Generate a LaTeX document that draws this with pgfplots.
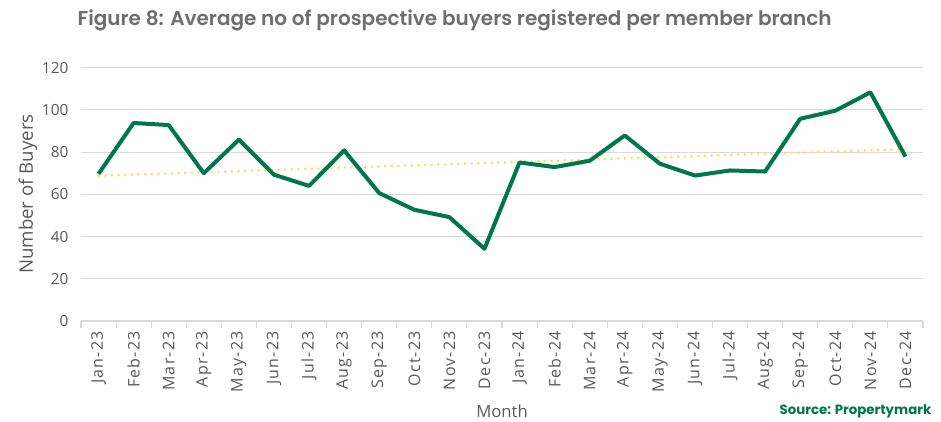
\documentclass[border=0pt]{standalone}
\usepackage{pgfplots}
\pgfplotsset{compat=1.18}
\usepackage{fontspec}
\setmainfont{Open Sans}
\newfontfamily\tickfont{Open Sans}[LetterSpace=8]
\newfontfamily\titlefont{Poppins}
\newfontfamily\titlemed{Poppins SemiBold}
\definecolor{lgreen}{HTML}{00774A}
\definecolor{trendy}{HTML}{FFD966}
\definecolor{txtgray}{HTML}{595959}
\definecolor{titlegray}{HTML}{6E6E70}
\definecolor{gridgray}{HTML}{D9D9D9}
\begin{document}
\begin{tikzpicture}[x=0.75pt,y=0.75pt]
\useasboundingbox (-81,-100) rectangle (860,321);
\begin{axis}[
  at={(0,0)}, anchor=south west,
  scale only axis, width=631.5pt, height=190pt,
  xmin=-0.5, xmax=23.5, ymin=0, ymax=120,
  ytick={0,20,...,120},
  xtick={0,...,23},
  xticklabels={Jan-23,Feb-23,Mar-23,Apr-23,May-23,Jun-23,Jul-23,Aug-23,Sep-23,Oct-23,Nov-23,Dec-23,Jan-24,Feb-24,Mar-24,Apr-24,May-24,Jun-24,Jul-24,Aug-24,Sep-24,Oct-24,Nov-24,Dec-24},
  minor xtick={-0.5,0.5,...,23.5},
  x tick label style={rotate=90, anchor=east, font=\tickfont\fontsize{12}{13}\selectfont, color=txtgray},
  y tick label style={font=\fontsize{11.5}{14}\selectfont, color=txtgray},
  /pgf/number format/assume math mode=true,
  axis x line*=bottom, axis y line*=left,
  x axis line style={draw=gridgray, line width=0.8pt},
  y axis line style={draw=none},
  every tick/.style={draw=none},
  minor tick style={draw=gridgray, line width=0.8pt},
  minor tick length=5pt,
  xtick align=outside,
  major tick length=0pt,
  ymajorgrids, grid style={draw=gridgray, line width=0.8pt},
  clip=false,
  xticklabel shift=4pt,
  yticklabel style={xshift=-6pt},
]
\addplot[trendy, line width=2.2pt, line cap=round, dash pattern=on 0pt off 5pt] coordinates {(0,68.8) (23,81.4)};
\addplot[lgreen, line width=3pt, line join=round] coordinates {
(0,69.7) (1,93.8) (2,92.8) (3,70.0) (4,85.9) (5,69.3) (6,64.0) (7,80.8)
(8,60.6) (9,52.7) (10,49.2) (11,34.2) (12,75.1) (13,72.9) (14,75.9) (15,87.9)
(16,74.5) (17,68.9) (18,71.3) (19,70.8) (20,95.8) (21,99.6) (22,108.3) (23,77.9)};
\end{axis}
\node[rotate=90, font=\fontsize{14}{16}\selectfont, text=txtgray] at (-53,127) {Number of Buyers};
\node[font=\fontsize{12.5}{15}\selectfont, text=txtgray] at (421,-90) {Month};
\node[anchor=east, font=\titlefont\bfseries\fontsize{10}{12}\selectfont, text=lgreen] at (855,-90) {Source: Propertymark};
\node[anchor=west, font=\titlemed\fontsize{15}{18}\selectfont, text=titlegray] at (-8,301) {Figure 8: Average no of prospective buyers registered per member branch};
\end{tikzpicture}
\end{document}
